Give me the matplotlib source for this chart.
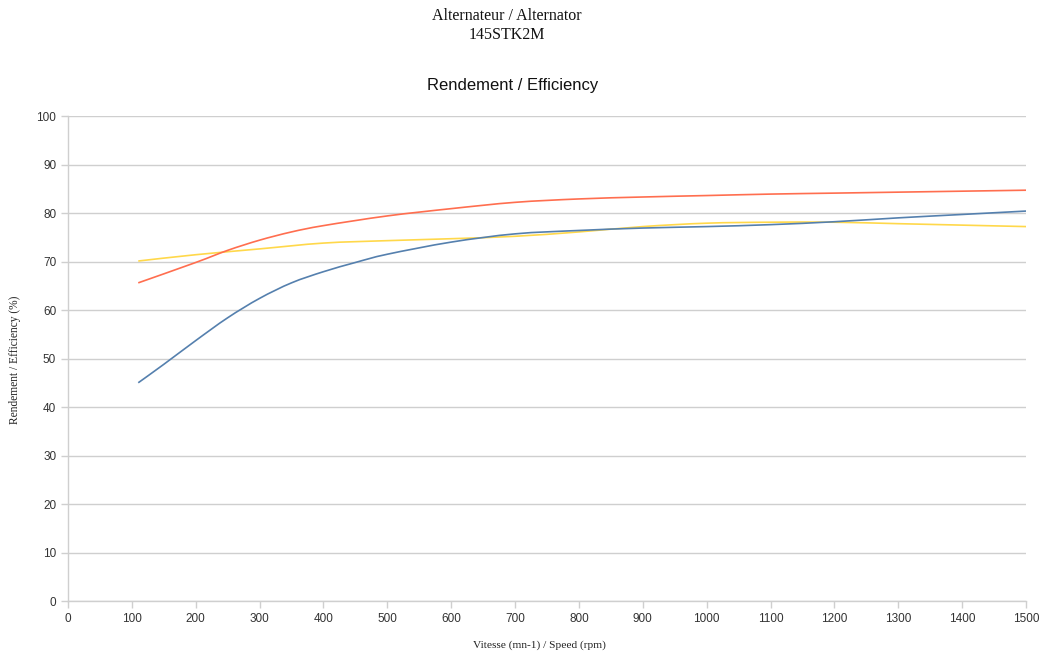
import matplotlib
matplotlib.use("Agg")
import matplotlib.pyplot as plt
from matplotlib.path import Path
from matplotlib.patches import PathPatch

# Efficiency curves of the 145STK2M alternator versus rotation speed
speed_blue = [110, 150, 200, 250, 300, 350, 400, 450, 500, 600, 700, 800, 900, 1000, 1100, 1200, 1300, 1400, 1500]
eff_blue = [45.0, 48.8, 53.7, 58.4, 62.4, 65.6, 67.9, 69.8, 71.5, 74.0, 75.7, 76.4, 76.9, 77.2, 77.6, 78.2, 79.0, 79.7, 80.4]

speed_red = [110, 200, 250, 300, 350, 400, 500, 600, 700, 800, 900, 1000, 1100, 1200, 1300, 1400, 1500]
eff_red = [65.6, 69.8, 72.3, 74.4, 76.1, 77.4, 79.4, 80.9, 82.2, 82.9, 83.3, 83.6, 83.9, 84.1, 84.3, 84.5, 84.7]

speed_yellow = [110, 200, 300, 400, 500, 600, 700, 800, 900, 1000, 1100, 1200, 1300, 1400, 1500]
eff_yellow = [70.1, 71.4, 72.6, 73.8, 74.3, 74.7, 75.2, 76.1, 77.2, 77.9, 78.1, 78.1, 77.8, 77.5, 77.2]

x_ticks = list(range(0, 1501, 100))
y_ticks = list(range(0, 101, 10))


def smooth_path(xs, ys):
    """Cubic Bezier path through the points (Catmull-Rom tangents)."""
    pts = list(zip(xs, ys))
    verts = [pts[0]]
    codes = [Path.MOVETO]
    n = len(pts)
    for i in range(n - 1):
        p0 = pts[i - 1] if i > 0 else pts[i]
        p1 = pts[i]
        p2 = pts[i + 1]
        p3 = pts[i + 2] if i + 2 < n else pts[i + 1]
        c1 = (p1[0] + (p2[0] - p0[0]) / 6.0, p1[1] + (p2[1] - p0[1]) / 6.0)
        c2 = (p2[0] - (p3[0] - p1[0]) / 6.0, p2[1] - (p3[1] - p1[1]) / 6.0)
        verts += [c1, c2, p2]
        codes += [Path.CURVE4] * 3
    return Path(verts, codes)


fig = plt.figure(figsize=(10.46, 6.55), dpi=100)
ax = fig.add_axes([0.065, 0.0824, 0.9159, 0.7405])

grid_col = "#cfcfcf"
for xs, ys, col in ((speed_yellow, eff_yellow, "#ffd84a"),
                    (speed_red, eff_red, "#ff6e4f"),
                    (speed_blue, eff_blue, "#5580ae")):
    ax.add_patch(PathPatch(smooth_path(xs, ys), fill=False, edgecolor=col,
                           lw=1.2, capstyle="butt", joinstyle="round"))

ax.set_xlim(0, 1500)
ax.set_ylim(0, 100)
ax.set_xticks(x_ticks)
ax.set_yticks(y_ticks)
ax.grid(axis="y", color=grid_col, lw=1.0)
ax.set_axisbelow(True)
for side in ("top", "right"):
    ax.spines[side].set_visible(False)
for side in ("left", "bottom"):
    ax.spines[side].set_color(grid_col)
    ax.spines[side].set_linewidth(1.0)
ax.tick_params(axis="both", colors=grid_col, length=5, width=1.0,
               labelcolor="#333333", labelsize=8.5)
for lab in ax.get_xticklabels() + ax.get_yticklabels():
    lab.set_fontfamily("Liberation Sans")

fig.text(0.516, 0.0153, "Vitesse (mn-1) / Speed (rpm)", ha="center", va="center",
         fontfamily="Liberation Serif", fontsize=8.2, color="#222222")
fig.text(0.0143, 0.45, "Rendement / Efficiency (%)", ha="center", va="center",
         rotation=90, fontfamily="Liberation Serif", fontsize=8.3, color="#222222")

fig.text(0.485, 0.975, "Alternateur / Alternator", ha="center", va="center",
         fontfamily="Liberation Serif", fontsize=11.5, color="#111111")
fig.text(0.485, 0.946, "145STK2M", ha="center", va="center",
         fontfamily="Liberation Serif", fontsize=11.5, color="#111111")
fig.text(0.49, 0.869, "Rendement / Efficiency", ha="center", va="center",
         fontfamily="Liberation Sans", fontsize=12, color="#111111")

fig.savefig("out.png", dpi=100, facecolor="white")
